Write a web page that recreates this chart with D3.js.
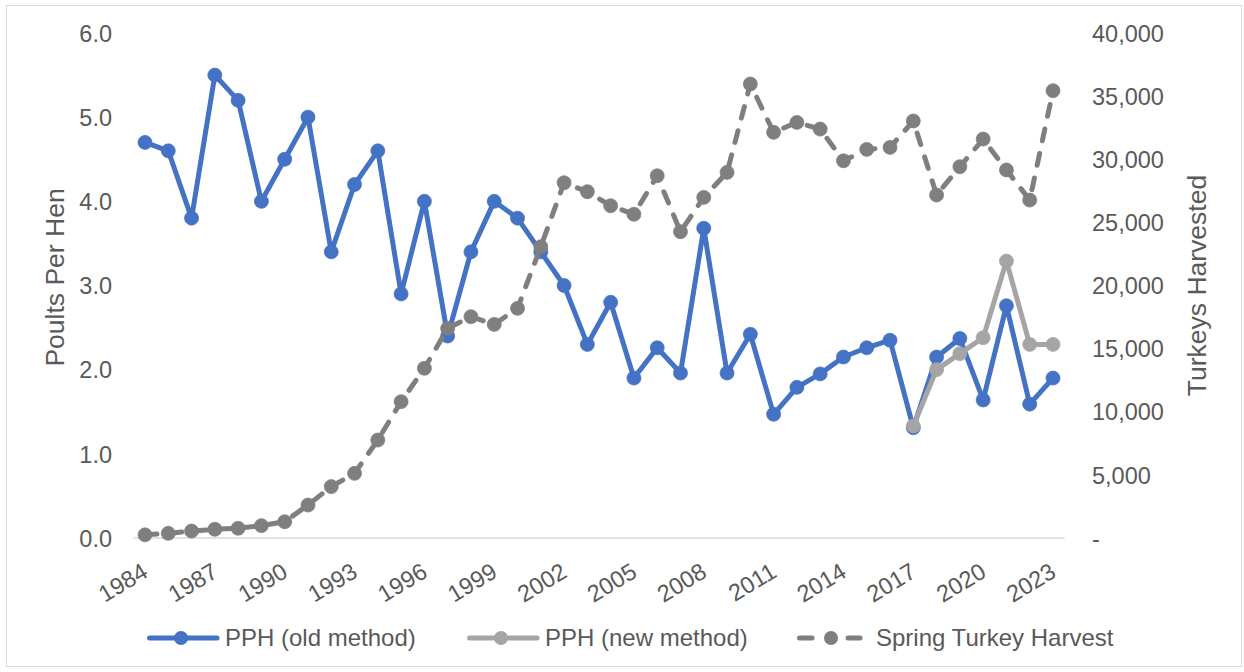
<!DOCTYPE html>
<html>
<head>
<meta charset="utf-8">
<script src="https://cdn.jsdelivr.net/npm/d3@7"></script>
<style>
  html, body { margin: 0; padding: 0; background: #fff; }
  svg { display: block; }
  text { font-family: "Liberation Sans", Arial, sans-serif; fill: #595959; }
</style>
</head>
<body>
<svg id="chart" width="1244" height="672"></svg>
<script>
const years = [1984,1985,1986,1987,1988,1989,1990,1991,1992,1993,1994,1995,1996,1997,1998,1999,2000,2001,2002,2003,2004,2005,2006,2007,2008,2009,2010,2011,2012,2013,2014,2015,2016,2017,2018,2019,2020,2021,2022,2023];
const pphOld = [4.7,4.6,3.8,5.5,5.2,4.0,4.5,5.0,3.4,4.2,4.6,2.9,4.0,2.4,3.4,4.0,3.8,3.4,3.0,2.3,2.8,1.9,2.26,1.96,3.68,1.96,2.42,1.47,1.79,1.95,2.15,2.26,2.35,1.31,2.15,2.37,1.64,2.76,1.59,1.9];
const pphNew = [null,null,null,null,null,null,null,null,null,null,null,null,null,null,null,null,null,null,null,null,null,null,null,null,null,null,null,null,null,null,null,null,null,1.33,2.0,2.19,2.38,3.29,2.3,2.3];
const harvest = [250,370,550,690,770,980,1290,2610,4070,5120,7760,10800,13440,16600,17530,16920,18190,23070,28140,27430,26320,25640,28690,24260,26980,28960,35960,32130,32920,32390,29880,30780,30940,33030,27170,29410,31600,29150,26770,35430];
const leftTicks = [0,1,2,3,4,5,6];
const rightTicks = [0,5000,10000,15000,20000,25000,30000,35000,40000];
const xTickYears = [1984,1987,1990,1993,1996,1999,2002,2005,2008,2011,2014,2017,2020,2023];
const seriesNames = ["PPH (old method)", "PPH (new method)", "Spring Turkey Harvest"];

const svg = d3.select("#chart");

// border
svg.append("rect").attr("x", 6.5).attr("y", 5.5).attr("width", 1235).attr("height", 661)
  .attr("fill", "#fff").attr("stroke", "#D9D9D9").attr("stroke-width", 1);

const x = d3.scalePoint().domain(years).range([145, 1053]);
const step = x.step();
const yL = d3.scaleLinear().domain([0, 6]).range([538, 33]);
const yR = d3.scaleLinear().domain([0, 40000]).range([538, 33]);

// baseline
svg.append("line")
  .attr("x1", x(years[0]) - step / 2).attr("x2", x(years[years.length - 1]) + step / 2)
  .attr("y1", yL(0)).attr("y2", yL(0))
  .attr("stroke", "#D9D9D9").attr("stroke-width", 1.5);

const tickFont = "23.5px";

// left axis
const leftAxis = d3.axisLeft(yL).tickValues(leftTicks).tickFormat(d3.format(".1f")).tickSize(0).tickPadding(0);
const gL = svg.append("g").attr("transform", "translate(112,0)").call(leftAxis);
gL.select(".domain").remove();
gL.selectAll("text").style("font-size", tickFont).attr("fill", "#595959").attr("dy", "0.35em");

// right axis
const rightAxis = d3.axisRight(yR).tickValues(rightTicks)
  .tickFormat(d => d === 0 ? "-" : d3.format(",")(d)).tickSize(0).tickPadding(0);
const gR = svg.append("g").attr("transform", "translate(1092,0)").call(rightAxis);
gR.select(".domain").remove();
gR.selectAll("text").style("font-size", tickFont).attr("fill", "#595959").attr("dy", "0.35em");

// x axis
const xAxis = d3.axisBottom(x).tickValues(xTickYears).tickSize(0).tickPadding(0);
const gX = svg.append("g").attr("transform", "translate(0,538)").call(xAxis);
gX.select(".domain").remove();
gX.selectAll("text")
  .style("font-size", tickFont).attr("fill", "#595959")
  .attr("text-anchor", "end")
  .attr("y", 0).attr("dy", 0)
  .attr("transform", "translate(4,38) rotate(-31)");

// axis titles
svg.append("text").attr("transform", `translate(64,${(33 + 538) / 2 - 8}) rotate(-90)`)
  .attr("text-anchor", "middle").style("font-size", "26.5px").text("Poults Per Hen");
svg.append("text").attr("transform", `translate(1206,${(33 + 538) / 2}) rotate(-90)`)
  .attr("text-anchor", "middle").style("font-size", "26.5px").text("Turkeys Harvested");

const styles = [
  { color: "#4472C4", dash: null },
  { color: "#A5A5A5", dash: null },
  { color: "#7F7F7F", dash: "12,13" }
];
const lw = 5, r = 7;

function drawSeries(values, scale, st) {
  const pts = years.map((yr, i) => ({ yr, v: values[i] })).filter(d => d.v !== null);
  const line = d3.line().x(d => x(d.yr)).y(d => scale(d.v));
  svg.append("path").datum(pts)
    .attr("d", line).attr("fill", "none")
    .attr("stroke", st.color).attr("stroke-width", lw)
    .attr("stroke-linejoin", "round").attr("stroke-linecap", "round")
    .attr("stroke-dasharray", st.dash);
  svg.append("g").selectAll("circle").data(pts).join("circle")
    .attr("cx", d => x(d.yr)).attr("cy", d => scale(d.v)).attr("r", r)
    .attr("fill", st.color).attr("stroke", st.color).attr("stroke-width", 0.75);
}
drawSeries(pphOld, yL, styles[0]);
drawSeries(pphNew, yL, styles[1]);
drawSeries(harvest, yR, styles[2]);

// legend
const legendX = [147, 467, 797];
const legendY = 638;
seriesNames.forEach((name, i) => {
  const st = styles[i];
  const g = svg.append("g").attr("transform", `translate(${legendX[i]},${legendY})`);
  if (st.dash) {
    g.append("line").attr("x1", 2.5).attr("x2", 15).attr("y1", 0).attr("y2", 0)
      .attr("stroke", st.color).attr("stroke-width", lw).attr("stroke-linecap", "round");
    g.append("line").attr("x1", 51).attr("x2", 63).attr("y1", 0).attr("y2", 0)
      .attr("stroke", st.color).attr("stroke-width", lw).attr("stroke-linecap", "round");
  } else {
    g.append("line").attr("x1", 2.5).attr("x2", 70).attr("y1", 0).attr("y2", 0)
      .attr("stroke", st.color).attr("stroke-width", lw).attr("stroke-linecap", "round");
  }
  g.append("circle").attr("cx", 34).attr("cy", 0).attr("r", r).attr("fill", st.color);
  g.append("text").attr("x", st.dash ? 79 : 78).attr("y", 0).attr("dy", "0.35em")
    .style("font-size", "24px").text(name);
});
</script>
</body>
</html>
